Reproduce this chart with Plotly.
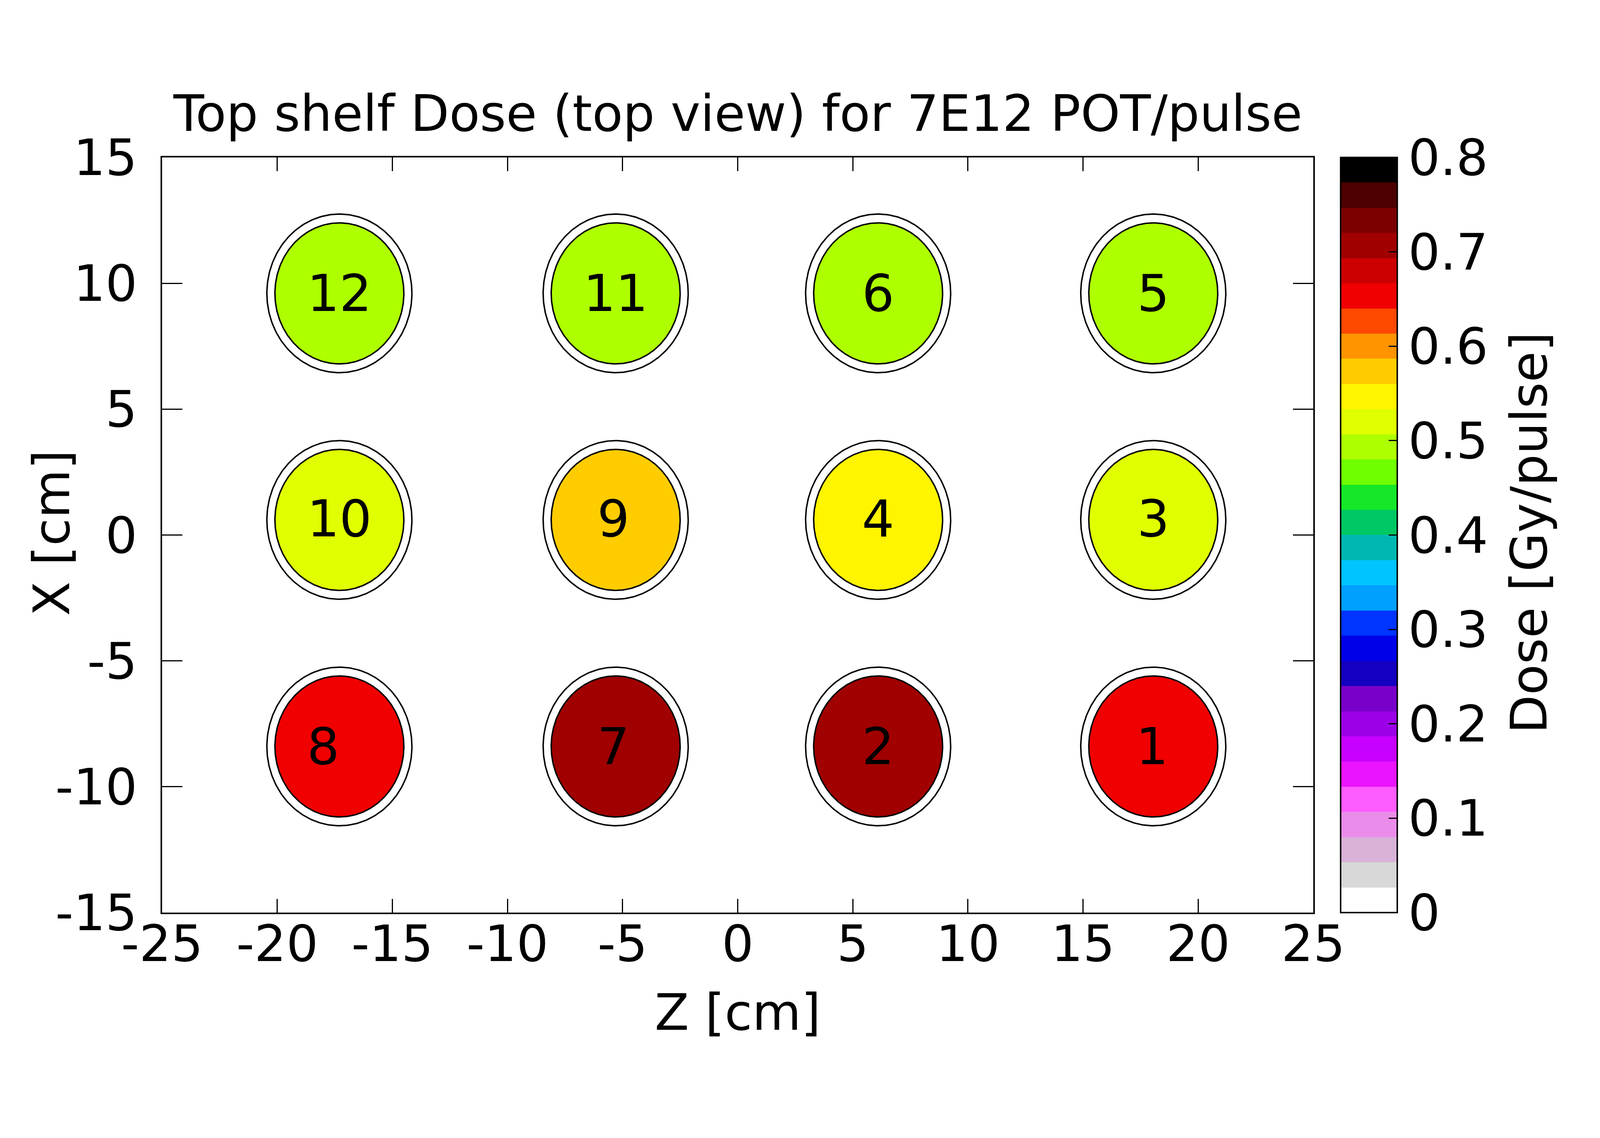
import numpy as np
import plotly.graph_objects as go

# detector positions (Z, X in cm), dose per detector and labels
det_label = ["12", "11", "6", "5", "10", "9", "4", "3", "8", "7", "2", "1"]
det_z = [-17.3, -5.3, 6.1, 18.05, -17.3, -5.3, 6.1, 18.05, -17.3, -5.3, 6.1, 18.05]
det_x = [9.6, 9.6, 9.6, 9.6, 0.6, 0.6, 0.6, 0.6, -8.4, -8.4, -8.4, -8.4]
det_dose = [0.495, 0.495, 0.495, 0.495, 0.52, 0.575, 0.545, 0.52, 0.655, 0.705, 0.705, 0.655]
label_z = [-17.3, -5.3, 6.1, 18.05, -17.3, -5.4, 6.1, 18.05, -18.0, -5.4, 6.1, 18.0]
label_x = [9.4, 9.4, 9.4, 9.4, 0.45, 0.45, 0.45, 0.45, -8.6, -8.6, -8.6, -8.6]

x_ticks = [-25, -20, -15, -10, -5, 0, 5, 10, 15, 20, 25]
y_ticks = [-15, -10, -5, 0, 5, 10, 15]
cb_ticks = [0, 0.1, 0.2, 0.3, 0.4, 0.5, 0.6, 0.7, 0.8]
cb_ticktext = ["0", "0.1", "0.2", "0.3", "0.4", "0.5", "0.6", "0.7", "0.8"]

r_inner = 2.8
r_outer = 3.15

# 30 colour bands from 0 to 0.8 Gy/pulse
band_colors = ["#ffffff", "#d8d8d8", "#d8b2d8", "#ea8cea", "#ff5cff", "#ea14ff", "#c800ff",
               "#9c00e8", "#7800c8", "#1400c0", "#0000e8", "#0034ff", "#00a0ff", "#00c4ff",
               "#00b8b0", "#00c864", "#14e828", "#70ff00", "#aeff00", "#e0ff00", "#fff500",
               "#ffcc00", "#ff9400", "#ff4800", "#f00000", "#cc0000", "#a00000", "#7c0000",
               "#4c0000", "#000000"]
zmin, zmax = 0.0, 0.8
nb = len(band_colors)

cscale = []
for i, c in enumerate(band_colors):
    cscale.append([i / nb, c])
    cscale.append([(i + 1) / nb, c])

# page seems to be shown with a ~1.074 zoom, so work in smaller css pixels
S = 1 / 1.0737


def px(v):
    return v * S


font = "DejaVu Sans"
fs = px(138)

fig = go.Figure()

t = np.linspace(0, 2 * np.pi, 241)
for z0, x0, d in zip(det_z, det_x, det_dose):
    k = min(int((d - zmin) / (zmax - zmin) * nb), nb - 1)
    fig.add_trace(go.Scatter(x=z0 + r_inner * np.cos(t), y=x0 + r_inner * np.sin(t),
                             mode="lines", fill="toself", fillcolor=band_colors[k],
                             line=dict(color="black", width=px(4)), hoverinfo="skip", showlegend=False))
    fig.add_trace(go.Scatter(x=z0 + r_outer * np.cos(t), y=x0 + r_outer * np.sin(t),
                             mode="lines", line=dict(color="black", width=px(4)),
                             hoverinfo="skip", showlegend=False))

# labels + colour bar
fig.add_trace(go.Scatter(
    x=label_z, y=label_x, mode="markers+text", text=det_label,
    textposition="middle center", textfont=dict(family=font, size=px(140), color="black"),
    marker=dict(size=1, opacity=0, color=det_dose, colorscale=cscale, cmin=zmin, cmax=zmax,
                showscale=True,
                colorbar=dict(x=(3676 - 437) / 3164, xanchor="left", xpad=0, y=0.5, yanchor="middle",
                              len=1, lenmode="fraction", ypad=0, thickness=px(156),
                              outlinecolor="black", outlinewidth=px(4),
                              tickvals=cb_ticks, ticktext=cb_ticktext,
                              ticks="inside", ticklen=px(25), tickwidth=px(3), tickcolor="black",
                              tickfont=dict(family=font, size=fs, color="black"))),
    showlegend=False, hoverinfo="skip"))

axis_common = dict(showgrid=False, zeroline=False, showline=True, linecolor="black", linewidth=px(4),
                   mirror="ticks", ticks="inside", tickwidth=px(3), tickcolor="black",
                   tickfont=dict(family=font, size=fs, color="black"))

fig.update_xaxes(range=[-25, 25], tickvals=x_ticks, ticktext=[str(v) for v in x_ticks],
                 ticklen=px(38), ticklabelstandoff=round(px(-36)), **axis_common)
fig.update_yaxes(range=[-15, 15], tickvals=y_ticks, ticktext=[str(v) for v in y_ticks],
                 ticklen=px(56), ticklabelstandoff=round(px(36)), **axis_common)

fig.update_layout(
    width=round(px(4371)), height=round(px(2913)),
    margin=dict(l=px(437), r=px(770), t=px(424), b=px(413)),
    paper_bgcolor="white", plot_bgcolor="white",
    font=dict(family=font, size=fs, color="black"),
    annotations=[
        dict(text="Top shelf Dose (top view) for 7E12 POT/pulse", x=0.5, y=1.058,
             xref="paper", yref="paper", showarrow=False, xanchor="center", yanchor="middle",
             font=dict(family=font, size=fs)),
        dict(text="Z [cm]", x=0.5, y=-0.132, xref="paper", yref="paper", showarrow=False,
             xanchor="center", yanchor="middle", font=dict(family=font, size=fs)),
        dict(text="X [cm]", x=-0.0958, y=0.503, xref="paper", yref="paper", showarrow=False,
             xanchor="center", yanchor="middle", textangle=-90, font=dict(family=font, size=fs)),
        dict(text="Dose [Gy/pulse]", x=1.1877, y=0.503, xref="paper", yref="paper", showarrow=False,
             xanchor="center", yanchor="middle", textangle=-90, font=dict(family=font, size=fs)),
    ],
)

fig.write_html("out.html")
